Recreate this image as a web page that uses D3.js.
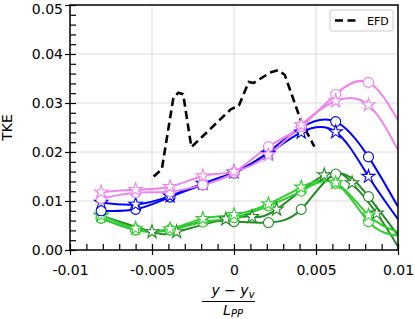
<!DOCTYPE html>
<html>
<head>
<meta charset="utf-8">
<script src="https://cdn.jsdelivr.net/npm/d3@7"></script>
<style>
  body { margin: 0; background: #fff; }
  svg { display: block; font-family: "DejaVu Sans", sans-serif; }
</style>
</head>
<body>
<div id="chart"></div>
<script>
var width  = 415;
var height = 319;

// Tick values and labels
var xTicks = [-0.01, -0.005, 0, 0.005, 0.01];
var xTickLabels = ["-0.01", "-0.005", "0", "0.005", "0.01"];
var yTicks = [0, 0.01, 0.02, 0.03, 0.04, 0.05];
var yTickLabels = ["0.00", "0.01", "0.02", "0.03", "0.04", "0.05"];

// EFD (dashed black)
var efdX = [-0.0049, -0.0044, -0.0037, -0.0034, -0.0031, -0.0026, -0.0002, 0.0003,
            0.0009, 0.0012, 0.0022, 0.0027, 0.0031, 0.0041, 0.0049];
var efdY = [0.0150, 0.0165, 0.0310, 0.0321, 0.0318, 0.0210, 0.0287, 0.0295,
            0.0343, 0.0341, 0.0362, 0.0367, 0.0357, 0.0262, 0.0211];

// simulation stations (last point is the curve end at the frame, no marker)
var stdX = [-0.0081, -0.0060, -0.0039, -0.0019, 0.0000, 0.0021, 0.0041, 0.0062, 0.0082, 0.0100];
var shiftX = [-0.0081, -0.0050, -0.0035, -0.0005, 0.0011, 0.0026, 0.0055, 0.0072, 0.0087, 0.0100];

var violetCircleY = [0.0105, 0.0117, 0.0119, 0.0133, 0.0158, 0.0211, 0.0252, 0.0318, 0.0342, 0.0265];
var violetStarY   = [0.0118, 0.0123, 0.0129, 0.0151, 0.0160, 0.0194, 0.0255, 0.0304, 0.0296, 0.0204];
var blueCircleY   = [0.0080, 0.0083, 0.0108, 0.0133, 0.0157, 0.0200, 0.0250, 0.0262, 0.0190, 0.0088];
var blueStarY     = [0.0097, 0.0093, 0.0110, 0.0136, 0.0159, 0.0197, 0.0240, 0.0241, 0.0150, 0.0063];
var limeCircleY   = [0.0065, 0.0041, 0.0041, 0.0057, 0.0066, 0.0090, 0.0120, 0.0136, 0.0058, 0.0029];
var limeStarY     = [0.0071, 0.0044, 0.0043, 0.0064, 0.0072, 0.0094, 0.0128, 0.0137, 0.0071, 0.0037];
var greenCircleY  = [0.0065, 0.0041, 0.0041, 0.0058, 0.0058, 0.0056, 0.0083, 0.0155, 0.0109, 0.0030];
var greenStarY    = [0.0070, 0.0037, 0.0037, 0.0063, 0.0068, 0.0083, 0.0153, 0.0137, 0.0075, 0.0007];

var series = [
  { x: stdX,   y: greenCircleY,  color: "#228b22", marker: "circle" },
  { x: shiftX, y: greenStarY,    color: "#228b22", marker: "star" },
  { x: stdX,   y: limeCircleY,   color: "#32cd32", marker: "circle" },
  { x: stdX,   y: limeStarY,     color: "#32cd32", marker: "star" },
  { x: stdX,   y: blueCircleY,   color: "#0000ff", marker: "circle" },
  { x: stdX,   y: blueStarY,     color: "#0000ff", marker: "star" },
  { x: stdX,   y: violetCircleY, color: "#ee82ee", marker: "circle" },
  { x: stdX,   y: violetStarY,   color: "#ee82ee", marker: "star" }
];

var x = d3.scaleLinear().domain([-0.01, 0.01]).range([70, 398]);
var y = d3.scaleLinear().domain([0, 0.05]).range([250, 5]);

var svg = d3.select("#chart").append("svg")
    .attr("width", width)
    .attr("height", height);

svg.append("clipPath").attr("id", "clip")
  .append("rect")
    .attr("x", x.range()[0]).attr("y", y.range()[1])
    .attr("width", x.range()[1] - x.range()[0])
    .attr("height", y.range()[0] - y.range()[1]);

// grid
var grid = svg.append("g").attr("stroke", "#dcdcdc").attr("stroke-width", 1);
grid.selectAll(".gx").data(xTicks.slice(1, -1)).enter().append("line")
    .attr("x1", d => x(d)).attr("x2", d => x(d))
    .attr("y1", y.range()[0]).attr("y2", y.range()[1]);
grid.selectAll(".gy").data(yTicks.slice(1, -1)).enter().append("line")
    .attr("y1", d => y(d)).attr("y2", d => y(d))
    .attr("x1", x.range()[0]).attr("x2", x.range()[1]);

var plot = svg.append("g").attr("clip-path", "url(#clip)");

// simulation curves
var line = d3.line().curve(d3.curveNatural);
series.forEach(function(s) {
  var pts = s.x.map((v, i) => [x(v), y(s.y[i])]);
  plot.append("path")
      .attr("d", line(pts))
      .attr("fill", "none")
      .attr("stroke", s.color)
      .attr("stroke-width", 2);
});

function starPath(r) {
  var p = [];
  for (var i = 0; i < 10; i++) {
    var a = -Math.PI / 2 + i * Math.PI / 5;
    var rr = i % 2 ? r * 0.382 : r;
    p.push([rr * Math.cos(a), rr * Math.sin(a)]);
  }
  return "M" + p.join("L") + "Z";
}

series.forEach(function(s) {
  var pts = s.x.slice(0, -1).map((v, i) => [x(v), y(s.y[i])]);
  var g = svg.append("g");
  if (s.marker === "circle") {
    g.selectAll("circle").data(pts).enter().append("circle")
        .attr("cx", d => d[0]).attr("cy", d => d[1]).attr("r", 5)
        .attr("fill", "#fff").attr("stroke", s.color).attr("stroke-width", 1.1);
  } else {
    g.selectAll("path").data(pts).enter().append("path")
        .attr("transform", d => "translate(" + d[0] + "," + d[1] + ")")
        .attr("d", starPath(7))
        .attr("fill", "#fff").attr("stroke", s.color).attr("stroke-width", 1.1)
        .attr("stroke-linejoin", "miter");
  }
});

// EFD dashed line
plot.append("path")
    .attr("d", d3.line().x(d => x(d[0])).y(d => y(d[1]))(efdX.map((v, i) => [v, efdY[i]])))
    .attr("fill", "none")
    .attr("stroke", "#000")
    .attr("stroke-width", 2.6)
    .attr("stroke-dasharray", "8,4.5")
    .attr("stroke-linejoin", "round");

// axes
var xMinor = d3.range(-10, 11).map(d => d / 1000);
var yMinor = d3.range(0, 26).map(d => d / 500);

var gx = svg.append("g").attr("transform", "translate(0," + y.range()[0] + ")");
gx.call(d3.axisBottom(x).tickValues(xTicks)
    .tickFormat((d, i) => xTickLabels[i]).tickSizeInner(5).tickSizeOuter(0).tickPadding(10));
gx.append("g").call(d3.axisTop(x).tickValues(xMinor).tickFormat("").tickSizeInner(6).tickSizeOuter(0));

var gy = svg.append("g").attr("transform", "translate(" + x.range()[0] + ",0)");
gy.call(d3.axisLeft(y).tickValues(yTicks)
    .tickFormat((d, i) => yTickLabels[i]).tickSizeInner(5).tickSizeOuter(0).tickPadding(2));
gy.append("g").call(d3.axisRight(y).tickValues(yMinor).tickFormat("").tickSizeInner(6).tickSizeOuter(0));

svg.selectAll(".domain").remove();
svg.selectAll(".tick line").attr("stroke", "#000").attr("stroke-width", 1.2);
svg.selectAll(".tick text").attr("font-size", 14).attr("font-family", "DejaVu Sans").attr("fill", "#000");
// keep the top label inside the picture
gy.selectAll(".tick text").filter(d => d === 0.05).attr("dy", "0.6em");

// frame
svg.append("rect")
    .attr("x", x.range()[0]).attr("y", y.range()[1])
    .attr("width", x.range()[1] - x.range()[0])
    .attr("height", y.range()[0] - y.range()[1])
    .attr("fill", "none").attr("stroke", "#000").attr("stroke-width", 1.5);

// axis labels
svg.append("text")
    .attr("transform", "translate(12," + (y.range()[0] + y.range()[1]) / 2 + ")rotate(-90)")
    .attr("text-anchor", "middle")
    .attr("font-size", 14)
    .text("TKE");

var xl = svg.append("g").attr("font-size", 14).attr("font-style", "italic");
var num = xl.append("text").attr("x", 233).attr("y", 295).attr("text-anchor", "middle");
num.append("tspan").text("y \u2212 y");
num.append("tspan").attr("dy", 3).attr("font-size", 10).text("v");
xl.append("line").attr("x1", 202).attr("x2", 255).attr("y1", 301.5).attr("y2", 301.5)
    .attr("stroke", "#000").attr("stroke-width", 1);
var den = xl.append("text").attr("x", 233).attr("y", 315).attr("text-anchor", "middle");
den.append("tspan").text("L");
den.append("tspan").attr("dy", 2).attr("font-size", 10).text("PP");

// legend
var lg = svg.append("g");
lg.append("rect").attr("x", 330).attr("y", 10).attr("width", 63).attr("height", 21).attr("rx", 2)
    .attr("fill", "#fff").attr("fill-opacity", 0.8).attr("stroke", "#ccc");
lg.append("line").attr("x1", 335).attr("x2", 358).attr("y1", 20.5).attr("y2", 20.5)
    .attr("stroke", "#000").attr("stroke-width", 2.6).attr("stroke-dasharray", "8,4.5");
lg.append("text").attr("x", 367).attr("y", 24.5).attr("font-size", 11).text("EFD");
</script>
</body>
</html>
